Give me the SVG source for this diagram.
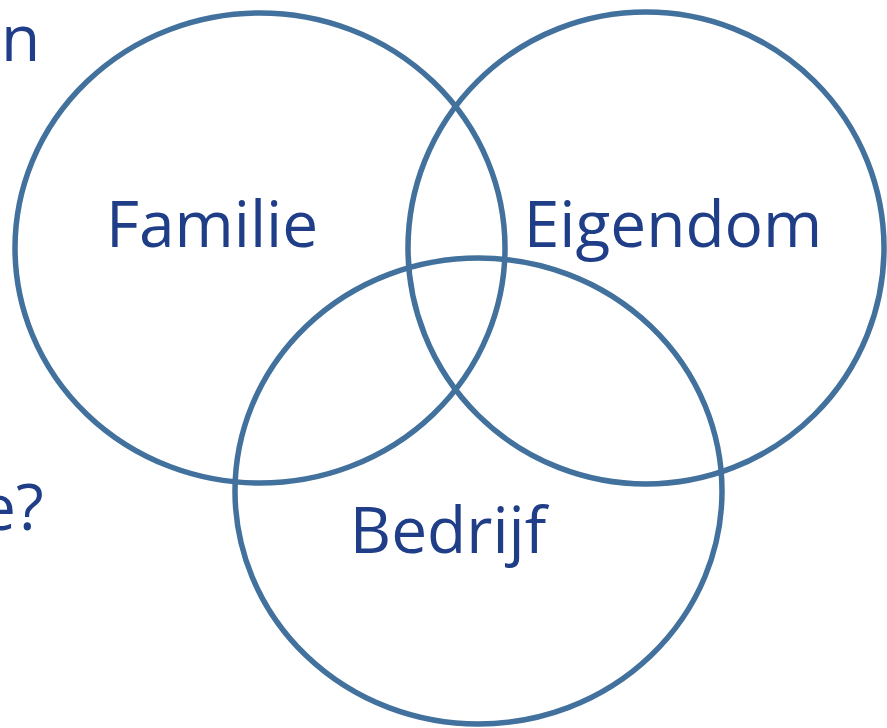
<svg xmlns="http://www.w3.org/2000/svg" width="887" height="728" viewBox="0 0 887 728">
<style>
.c{fill:none;stroke:#41719c;stroke-width:5.5}
.t{font-family:"Open Sans","Liberation Sans",sans-serif;fill:#1f3e87;font-size:64px}
</style>
<rect width="887" height="728" fill="#fff"/>
<text class="t" x="1" y="61">n</text>
<text class="t" x="-20" y="530">e?</text>
<g id="familie"><ellipse class="c" cx="260" cy="248" rx="245" ry="235"/><text class="t" x="212" y="247" text-anchor="middle">Familie</text></g>
<g id="eigendom"><ellipse class="c" cx="646" cy="248" rx="238" ry="236"/><text class="t" x="673" y="247" text-anchor="middle">Eigendom</text></g>
<g id="bedrijf"><ellipse class="c" cx="478.5" cy="491" rx="243.5" ry="233"/><text class="t" x="448" y="553" text-anchor="middle">Bedrijf</text></g>
</svg>
